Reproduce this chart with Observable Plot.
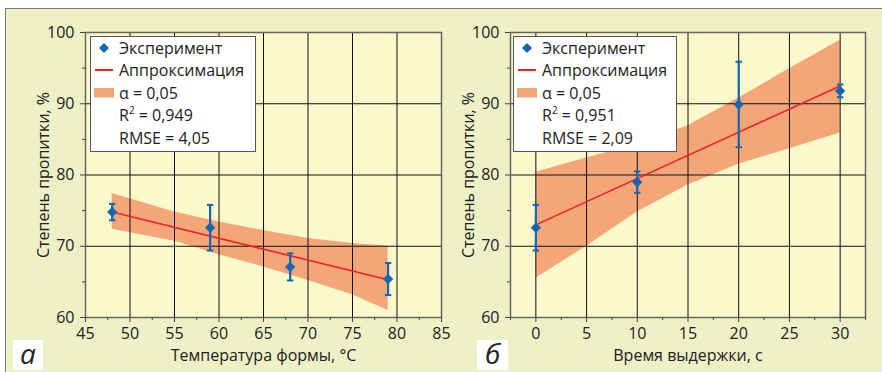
<!DOCTYPE html>
<html><head><meta charset="utf-8">
<script src="https://cdn.jsdelivr.net/npm/d3@7"></script>
<script src="https://cdn.jsdelivr.net/npm/@observablehq/plot@0.6"></script>
<style>
body{margin:0;background:#fff;font-family:"Open Sans",sans-serif;}
#root{position:relative;width:882px;height:372px;overflow:hidden;background:#fff;}
#outer{position:absolute;left:5px;top:8px;width:900px;height:400px;background:#eef1c6;border-top:1.5px solid #7c7c7c;border-left:1.5px solid #7c7c7c;}
.panel{position:absolute;top:0;width:441px;height:372px;}
.panel svg{overflow:visible;}
.legend{position:absolute;top:36px;height:116px;background:#fff;border:1.5px solid #555;box-sizing:border-box;font-size:16px;color:#222;}
.row{position:absolute;left:0;height:22px;line-height:22px;white-space:nowrap;}
.row .t{position:absolute;left:28px;top:0;}
.tag{position:absolute;top:340px;width:30px;height:30px;background:#fff;font-style:italic;font-size:28px;line-height:26px;text-align:center;color:#222;}
</style></head>
<body><div id="root"><div id="outer"></div></div>
<script>
// Panel а: temperature of the mould
const tempX = [48, 59, 68, 79];
const tempY = [74.8, 72.6, 67.1, 65.4];
const tempErr = [1.15, 3.2, 1.9, 2.25];
const tempFitX = [48, 79];
const tempFitY = [74.8, 65.3];
const tempBandX = [48, 55, 60, 65, 70, 75, 79];
const tempBandLo = [72.4, 70.7, 68.8, 67.1, 65.2, 63.2, 61.0];
const tempBandHi = [77.4, 74.8, 73.4, 72.2, 71.1, 70.4, 70.0];
const tempTicks = [45, 50, 55, 60, 65, 70, 75, 80, 85];
const tempMinor = [47.5, 52.5, 57.5, 62.5, 67.5, 72.5, 77.5, 82.5];
const tempGrid = [50, 55, 60, 65, 70, 75, 80];

// Panel б: holding time
const timeX = [0, 10, 20, 30];
const timeY = [72.6, 79.0, 89.9, 91.8];
const timeErr = [3.2, 1.5, 6.0, 0.9];
const timeFitX = [0, 30];
const timeFitY = [73.0, 92.5];
const timeBandX = [0, 5, 10, 15, 20, 25, 30];
const timeBandLo = [65.5, 70.0, 74.8, 78.6, 81.5, 83.7, 85.9];
const timeBandHi = [80.4, 82.4, 84.3, 86.9, 90.8, 94.9, 98.9];
const timeTicks = [0, 5, 10, 15, 20, 25, 30];
const timeMinor = [-2.5, 2.5, 7.5, 12.5, 17.5, 22.5, 27.5, 32.5];
const timeGrid = [0, 5, 10, 15, 20, 25, 30];

const yTicks = [60, 70, 80, 90, 100];
const yMinor = [65, 75, 85, 95];
const yGrid = [70, 80, 90];
const yLabel = "Степень пропитки, %";

const legendA = ["Эксперимент", "Аппроксимация", "α = 0,05", "R² = 0,949", "RMSE = 4,05"];
const legendB = ["Эксперимент", "Аппроксимация", "α = 0,05", "R² = 0,951", "RMSE = 2,09"];

const BLUE = "#1266b4", RED = "#ec2327", BAND = "#f4a679";
const capSymbol = {draw(ctx, size){ const r = Math.sqrt(size) / 2; ctx.moveTo(-r, 0); ctx.lineTo(r, 0); }};

function makePanel(o) {
  const pts = o.xs.map((x, i) => ({x, y: o.ys[i], e: o.errs[i]}));
  const fit = o.fitX.map((x, i) => ({x, y: o.fitY[i]}));
  const band = o.bandX.map((x, i) => ({x, lo: o.lo[i], hi: o.hi[i]}));
  return Plot.plot({
    width: 441, height: 372,
    marginLeft: o.ml, marginRight: o.mr, marginTop: 32, marginBottom: 55,
    x: {domain: o.domain},
    y: {domain: [60, 100]},
    style: {fontFamily: "Open Sans", fontSize: "16px", color: "#222", background: "transparent", overflow: "visible"},
    marks: [
      Plot.frame({fill: "#fbf8cc"}),
      Plot.areaY(band, {x: "x", y1: "lo", y2: "hi", fill: BAND}),
      Plot.gridX(o.grid, {stroke: "#111", strokeOpacity: 1, strokeWidth: 1}),
      Plot.gridY(yGrid, {stroke: "#111", strokeOpacity: 1, strokeWidth: 1}),
      Plot.line(fit, {x: "x", y: "y", stroke: RED, strokeWidth: 1.6}),
      Plot.ruleX(pts, {x: "x", y1: d => d.y - d.e, y2: d => d.y + d.e, stroke: BLUE, strokeWidth: 2.2}),
      Plot.dot(pts, {x: "x", y: d => d.y + d.e, symbol: capSymbol, r: 3.6, stroke: BLUE, strokeWidth: 2}),
      Plot.dot(pts, {x: "x", y: d => d.y - d.e, symbol: capSymbol, r: 3.6, stroke: BLUE, strokeWidth: 2}),
      Plot.dot(pts, {x: "x", y: "y", symbol: "diamond2", r: 4.4, fill: BLUE, stroke: BLUE, strokeWidth: 0.5}),
      Plot.frame({stroke: "#666", strokeWidth: 1.5}),
      Plot.axisX(o.ticks, {tickSize: 5, tickPadding: 5, label: null, stroke: "#444", fontSize: 16, fill: "#222"}),
      Plot.axisX(o.minor, {tickSize: 3, tickFormat: () => "", label: null, stroke: "#444"}),
      Plot.axisY(yTicks, {tickSize: 5, tickPadding: 6, label: null, stroke: "#444", fontSize: 16, fill: "#222"}),
      Plot.axisY(yMinor, {tickSize: 3, tickFormat: () => "", label: null, stroke: "#444"}),
      Plot.text([o.xLabel], {frameAnchor: "bottom", textAnchor: "middle", lineAnchor: "middle", dy: 38, text: d => d, fontSize: 16, fill: "#222"}),
      Plot.text([yLabel], {frameAnchor: "left", textAnchor: "middle", lineAnchor: "middle", rotate: -90, dx: -42, text: d => d, fontSize: 16, fill: "#222"})
    ]
  });
}

function makeLegend(items, left, width) {
  const div = document.createElement("div");
  div.className = "legend";
  div.style.left = left + "px";
  div.style.width = width + "px";
  const tops = [0, 22.4, 44.8, 67.2, 89.6];
  items.forEach((txt, i) => {
    const r = document.createElement("div");
    r.className = "row";
    r.style.top = tops[i] + "px";
    let sym = "";
    if (i === 0) sym = `<svg width="28" height="22" style="position:absolute;left:0;top:0"><path d="M13,6 L18,11 L13,16 L8,11 Z" fill="${BLUE}"/></svg>`;
    if (i === 1) sym = `<svg width="28" height="22" style="position:absolute;left:0;top:0"><line x1="4" x2="22" y1="11" y2="11" stroke="${RED}" stroke-width="2"/></svg>`;
    if (i === 2) sym = `<svg width="28" height="22" style="position:absolute;left:0;top:0"><rect x="3" y="6" width="20" height="9.5" fill="${BAND}"/></svg>`;
    const label = txt.replace("R²", "R<sup style='font-size:10px;vertical-align:7px;line-height:0'>2</sup>");
    r.innerHTML = sym + `<span class="t">${label}</span>`;
    div.appendChild(r);
  });
  return div;
}

const root = document.getElementById("root");
const pa = document.createElement("div"); pa.className = "panel"; pa.style.left = "0px";
pa.appendChild(makePanel({xs: tempX, ys: tempY, errs: tempErr, fitX: tempFitX, fitY: tempFitY,
  bandX: tempBandX, lo: tempBandLo, hi: tempBandHi, domain: [45, 85], ticks: tempTicks, minor: tempMinor,
  grid: tempGrid, ml: 85, mr: 0, xLabel: "Температура формы, °С"}));
root.appendChild(pa);
const pb = document.createElement("div"); pb.className = "panel"; pb.style.left = "441px";
pb.appendChild(makePanel({xs: timeX, ys: timeY, errs: timeErr, fitX: timeFitX, fitY: timeFitY,
  bandX: timeBandX, lo: timeBandLo, hi: timeBandHi, domain: [-2.5, 32.5], ticks: timeTicks, minor: timeMinor,
  grid: timeGrid, ml: 69, mr: 17, xLabel: "Время выдержки, с"}));
root.appendChild(pb);
root.appendChild(makeLegend(legendA, 90, 166));
root.appendChild(makeLegend(legendB, 513, 164));
const ta = document.createElement("div"); ta.className = "tag"; ta.style.left = "13px"; ta.textContent = "а"; root.appendChild(ta);
const tb = document.createElement("div"); tb.className = "tag"; tb.style.left = "477px"; tb.style.width = "31px"; tb.textContent = "б"; root.appendChild(tb);
</script>
</body></html>
